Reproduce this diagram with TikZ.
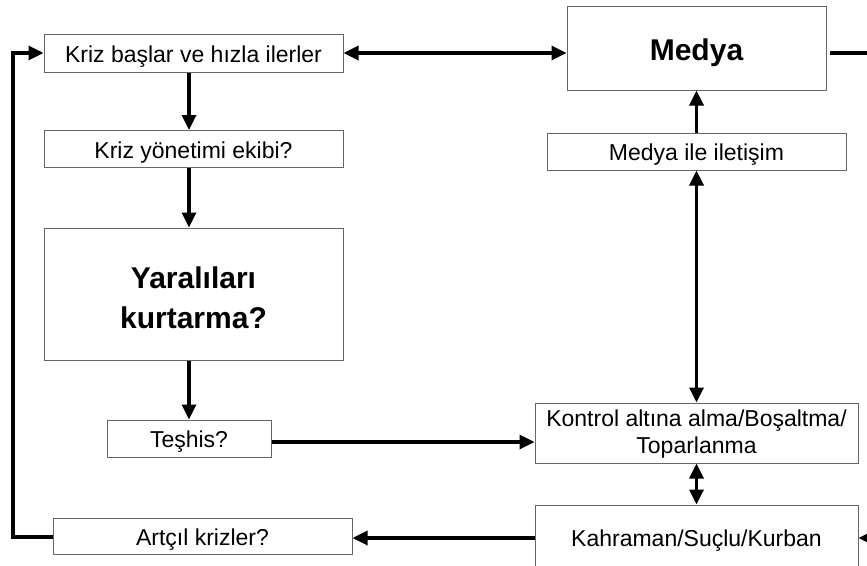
\documentclass[tikz,border=0pt]{standalone}
\usepackage{fontspec}
\setmainfont{Liberation Sans}
\usetikzlibrary{arrows.meta}
\tikzset{
  box/.style={draw=black!60, line width=1pt, fill=white, inner sep=0pt, align=center,
    font=\fontsize{23}{27}\selectfont},
  onel/.style={text height=22pt, text depth=3.5pt},
  bigonel/.style={text height=29pt, text depth=4.5pt},
  bigbox/.style={box, font=\fontsize{30}{40}\selectfont\bfseries},
  arr/.style={line width=3.3pt, -{Triangle[length=15pt,width=14pt]}},
  darr/.style={line width=3.3pt, {Triangle[length=15pt,width=14pt]}-{Triangle[length=15pt,width=14pt]}},
  plain/.style={line width=3.3pt}
}
\begin{document}
\begin{tikzpicture}[x=1pt,y=-1pt]
\useasboundingbox (0,0) rectangle (867,565);
% left column
\node[box, onel, minimum width=299pt, minimum height=38pt] (k1) at (193.5,53) {Kriz başlar ve hızla ilerler};
\node[box, onel, minimum width=299pt, minimum height=37pt] (k2) at (193.5,149) {Kriz yönetimi ekibi?};
\node[bigbox, minimum width=299pt, minimum height=132pt] (k3) at (193.5,294) {\rule{0pt}{30pt}Yaralıları\\kurtarma?};
\node[box, onel, minimum width=164pt, minimum height=37pt] (k4) at (189,438.5) {Teşhis?};
\node[box, onel, minimum width=299pt, minimum height=36pt] (k5) at (202.5,536) {Artçıl krizler?};
% right column
\node[bigbox, bigonel, minimum width=259pt, minimum height=84pt] (m1) at (696.5,48) {Medya};
\node[box, onel, minimum width=299pt, minimum height=37pt] (m2) at (696.5,151.5) {Medya ile iletişim};
\node[box, minimum width=323pt, minimum height=60pt] (m3) at (696.5,433) {\rule{0pt}{19pt}Kontrol altına alma/Boşaltma/\\Toparlanma};
\node[box, onel, minimum width=323pt, minimum height=64pt] (m4) at (696.5,537) {Kahraman/Suçlu/Kurban};
% free ends
\coordinate (mr1) at (830,53);
\coordinate (mr2) at (880,53);
\coordinate (kr) at (890,538);
\coordinate (lb) at (13,537);
\coordinate (lt) at (13,53);
% connectors
\draw[darr] (k1.east) -- (m1.west |- k1.east);
\draw[plain] (mr1) -- (mr2);
\draw[arr] (k1.south -| k4.north) -- (k2.north -| k4.north);
\draw[arr] (k2.south -| k4.north) -- (k3.north -| k4.north);
\draw[arr] (k3.south -| k4.north) -- (k4.north);
\draw[arr] (k4.east |- 0,442) -- (m3.west |- 0,442);
\draw[arr] (m2.north) -- (m1.south);
\draw[darr] (m3.north) -- (m2.south);
\draw[darr] (m3.south) -- (m4.north);
\draw[arr] (m4.west |- 0,538) -- (k5.east |- 0,538);
\draw[arr] (kr) -- (m4.east |- kr);
\draw[arr] (k5.west |- lb) -- (lb) -- (lt) -- (k1.west);
\end{tikzpicture}
\end{document}
